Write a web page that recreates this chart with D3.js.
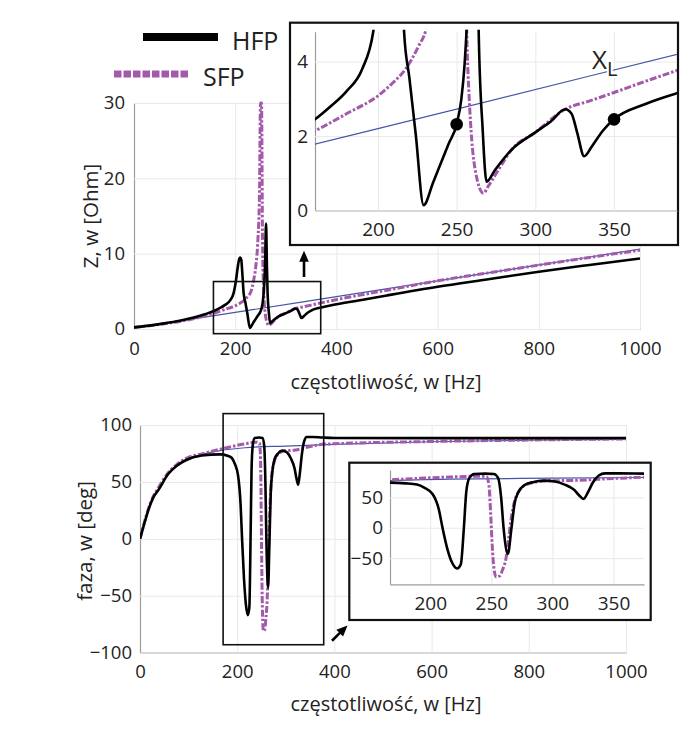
<!DOCTYPE html>
<html>
<head>
<meta charset="utf-8">
<script src="https://cdnjs.cloudflare.com/ajax/libs/d3/7.8.5/d3.min.js"></script>
<style>
  body { margin: 0; background: #fff; }
  svg { display: block; font-family: "Open Sans", sans-serif; }
</style>
</head>
<body>
<div id="chart"></div>
<script>
// ---- data: impedance |Z| [Ohm] ----
var fZHfp = [0, 30, 60, 90, 120, 140, 160, 170, 180, 190, 197, 201, 205, 208, 210, 212, 214, 216.6, 220, 224, 229,
             235, 240, 245, 250, 253, 255, 257, 259, 261, 262.5, 264, 266.5, 269, 274.5, 285, 300, 310, 319, 323,
             326.6, 331, 336, 343, 350, 370, 390, 450, 500, 600, 700, 800, 900, 1000];
var zHfp  = [0.22, 0.45, 0.75, 1.1, 1.55, 1.95, 2.45, 2.8, 3.2, 3.8, 4.8, 6.2, 8.2, 9.3, 9.5, 9.2, 7.5, 4.8, 3.55, 2.05, 0.15,
             0.75, 1.28, 1.8, 2.32, 3.0, 3.9, 5.5, 8.5, 14, 9, 4.8, 2.2, 0.78, 1.1, 1.64, 2.1, 2.4, 2.72, 2.6,
             2.09, 1.46, 1.73, 2.15, 2.45, 2.86, 3.15, 3.85, 4.45, 5.6, 6.6, 7.6, 8.5, 9.36];

var fZSfp = [0, 30, 60, 90, 120, 140, 160, 180, 200, 210, 217.6, 226, 230.4, 236, 241, 245, 248, 250, 252, 254, 256.4,
             258, 259.6, 262.2, 267, 270, 276.6, 285, 300, 319, 335, 350, 370, 390, 400, 500, 600, 700, 800, 900, 1000];
var zSfp  = [0.22, 0.42, 0.7, 1.0, 1.4, 1.75, 2.14, 2.6, 3.08, 3.45, 3.8, 4.43, 4.84, 6.3, 8.5, 12, 18, 30, 30, 12, 4.8,
             3.0, 1.9, 1.0, 0.47, 0.65, 1.1, 1.64, 2.1, 2.72, 2.95, 3.17, 3.47, 3.76, 3.9, 5.15, 6.4, 7.45, 8.48, 9.5, 10.46];

var fZXl = [0, 200, 400, 600, 800, 1000];
var zXl  = [0.12, 2.2, 4.3, 6.4, 8.5, 10.6];

// ---- data: phase [deg] ----
var fPHfp = [0, 8, 17, 27, 38, 58, 75, 93, 127, 165, 180, 189, 195, 202, 207, 210, 214, 218, 222, 225, 227.5, 229.5,
             232, 236, 245, 252, 255.5, 258, 260, 263.5, 266.5, 269, 272, 277, 284, 293, 302, 310, 318, 322, 325.5,
             329, 333, 338, 343, 355, 375, 400, 600, 800, 1000];
var pHfp  = [0, 12, 25, 36, 43, 57, 64, 68.8, 73.2, 74.2, 73, 71, 66, 55, 30, 0, -35, -58, -67, -60, 0, 60,
             82, 88.5, 89, 88.5, 82, 50, 0, -43, 0, 40, 58, 70, 75, 77.5, 76, 71, 62, 53, 47.5,
             58, 74, 86, 89.5, 89.5, 89, 88.6, 88.5, 88.5, 88.6];

var fPSfp = [0, 8, 17, 27, 38, 58, 75, 93, 127, 168, 216, 240, 246, 248, 249.5, 251, 252.5, 254, 257, 259, 262, 264,
             266, 268, 271, 275, 280, 294, 320, 350, 375, 400, 600, 800, 1000];
var pSfp  = [0, 13, 26, 37, 45, 58, 65, 70.3, 74.6, 79, 83.4, 84.9, 84, 70, 20, -40, -72, -81, -79, -70, -50, -20,
             12, 35, 55, 66, 72, 77, 78, 81, 83, 83.5, 85.5, 86.8, 87.8];

var fPXl = [0, 8, 17, 27, 38, 58, 93, 127, 165, 216, 300, 400, 600, 800, 1000];
var pXl  = [0, 13, 25, 36, 43, 57, 68.5, 74, 77.5, 80, 81.5, 83, 85.3, 86.6, 87.5];

// ---- ticks ----
var xTicks = [0, 200, 400, 600, 800, 1000];
var zTicks = [0, 10, 20, 30];
var zInXTicks = [200, 250, 300, 350];
var zInYTicks = [0, 2, 4];
var pTicks = [-100, -50, 0, 50, 100];
var pInXTicks = [200, 250, 300, 350];
var pInYTicks = [-50, 0, 50];

// marker points on the Z inset
var dotF = [250, 350];
var dotZ = [2.32, 2.45];

var purple = "#a35aab", blue = "#4656a6";

function zip(xs, ys) { return xs.map(function(x, i) { return [x, ys[i]]; }); }

var svg = d3.select("#chart").append("svg")
    .attr("width", 689)
    .attr("height", 744);

var defs = svg.append("defs");

function minus(d) { return d < 0 ? "\u2212" + Math.abs(d) : String(d); }

/* draws grid + axes + three curves for one panel */
function panel(g, x, y, xt, yt, id, opts) {
    var x0 = x.range()[0], x1 = x.range()[1];
    var y0 = y.range()[0], y1 = y.range()[1];

    defs.append("clipPath").attr("id", id)
        .append("rect")
        .attr("x", x0).attr("y", y1 - 2)
        .attr("width", x1 - x0).attr("height", y0 - y1 + 2);

    var xa = g.append("g")
        .attr("transform", "translate(0," + y0 + ")")
        .call(d3.axisBottom(x).tickValues(xt).tickSizeInner(-(y0 - y1)).tickSizeOuter(0)
              .tickPadding(opts.xPad).tickFormat(minus));
    var ya = g.append("g")
        .attr("transform", "translate(" + x0 + ",0)")
        .call(d3.axisLeft(y).tickValues(yt).tickSizeInner(-(x1 - x0)).tickSizeOuter(0)
              .tickPadding(opts.yPad).tickFormat(minus));

    [xa, ya].forEach(function(a) {
        a.selectAll(".tick line").style("stroke", "#e9e9e9").style("stroke-width", 1);
        a.select(".domain").style("stroke", "#9c9c9c").style("stroke-width", 1.2);
        a.selectAll("text").style("font-size", opts.font + "px").style("fill", "#222")
            .style("font-family", '"Open Sans", sans-serif');
    });
    ya.raise();

    var line = d3.line()
        .x(function(d) { return x(d[0]); })
        .y(function(d) { return y(d[1]); })
        .curve(d3.curveMonotoneX);

    var c = g.append("g").attr("clip-path", "url(#" + id + ")");
    c.append("path").datum(opts.xl)
        .attr("d", line).attr("fill", "none")
        .attr("stroke", blue).attr("stroke-width", 1.2);
    c.append("path").datum(opts.sfp)
        .attr("d", line).attr("fill", "none")
        .attr("stroke", purple).attr("stroke-width", 3)
        .attr("stroke-dasharray", "7,2,2.5,2");
    c.append("path").datum(opts.hfp)
        .attr("d", line).attr("fill", "none")
        .attr("stroke", "#000").attr("stroke-width", 2.6)
        .attr("stroke-linejoin", "round");
    return c;
}

function zoomBox(g, x, y, fx, vy) {
    g.append("rect")
        .attr("x", x(fx[0])).attr("y", y(vy[1]))
        .attr("width", x(fx[1]) - x(fx[0])).attr("height", y(vy[0]) - y(vy[1]))
        .attr("fill", "none").attr("stroke", "#111").attr("stroke-width", 1.6);
}

function arrow(g, x1, y1, x2, y2) {
    var dx = x2 - x1, dy = y2 - y1, L = Math.sqrt(dx * dx + dy * dy);
    var ux = dx / L, uy = dy / L, hl = 11, hw = 4.8;
    var bx = x2 - ux * hl, by = y2 - uy * hl;
    g.append("line")
        .attr("x1", x1).attr("y1", y1).attr("x2", bx + ux).attr("y2", by + uy)
        .attr("stroke", "#000").attr("stroke-width", 2.6);
    g.append("polygon")
        .attr("points", [[x2, y2], [bx - uy * hw, by + ux * hw], [bx + uy * hw, by - ux * hw]].join(" "))
        .attr("fill", "#000");
}

// ================= TOP: impedance =================
var xTop = d3.scaleLinear().domain([0, 1000]).range([134, 640]);
var yTop = d3.scaleLinear().domain([0, 30]).range([329, 103]);
var gTop = svg.append("g");
panel(gTop, xTop, yTop, xTicks, zTicks, "clipTop",
      {xPad: 13, yPad: 9, font: 18.5, hfp: zip(fZHfp, zHfp), sfp: zip(fZSfp, zSfp), xl: zip(fZXl, zXl)});
zoomBox(gTop, xTop, yTop, [157, 369], [-0.62, 6.3]);
arrow(gTop, xTop(336), yTop(6.9), xTop(336), yTop(10.4));

gTop.append("text")
    .attr("transform", "translate(98,216) rotate(-90)")
    .attr("text-anchor", "middle").style("font-size", "20.5px").style("fill", "#222")
    .text("Z, w [Ohm]");
gTop.append("text")
    .attr("x", 386).attr("y", 389)
    .attr("text-anchor", "middle").style("font-size", "20px").style("fill", "#222")
    .text("częstotliwość, w [Hz]");

// inset of impedance
var gTopIn = svg.append("g");
gTopIn.append("rect")
    .attr("x", 290).attr("y", 22.7).attr("width", 388).attr("height", 222.3)
    .attr("fill", "#fff").attr("stroke", "#111").attr("stroke-width", 2.2);
var xTopIn = d3.scaleLinear().domain([160, 390]).range([315, 677]);
var yTopIn = d3.scaleLinear().domain([0, 4.8]).range([210.7, 31.7]);
panel(gTopIn, xTopIn, yTopIn, zInXTicks, zInYTicks, "clipTopIn",
      {xPad: 12, yPad: 7, font: 19, hfp: zip(fZHfp, zHfp), sfp: zip(fZSfp, zSfp), xl: zip(fZXl, zXl)});
gTopIn.selectAll(".dot")
    .data(zip(dotF, dotZ))
    .enter().append("circle")
    .attr("cx", function(d) { return xTopIn(d[0]); })
    .attr("cy", function(d) { return yTopIn(d[1]); })
    .attr("r", 6.3).attr("fill", "#000");
var xl = gTopIn.append("text")
    .attr("x", xTopIn(336)).attr("y", yTopIn(3.8))
    .style("font-size", "26px").style("fill", "#222")
    .attr("stroke", "#fff").attr("stroke-width", 4).attr("paint-order", "stroke");
xl.append("tspan").text("X");
xl.append("tspan").attr("dy", 7).style("font-size", "20px").text("L");

// legend
var leg = svg.append("g");
leg.append("line").attr("x1", 143).attr("x2", 218).attr("y1", 37).attr("y2", 37)
    .attr("stroke", "#000").attr("stroke-width", 8);
leg.append("text").attr("x", 232).attr("y", 50).style("font-size", "25px").style("fill", "#222").text("HFP");
leg.append("line").attr("x1", 114).attr("x2", 190).attr("y1", 74).attr("y2", 74)
    .attr("stroke", purple).attr("stroke-width", 7).attr("stroke-dasharray", "7.5,2");
leg.append("text").attr("x", 203).attr("y", 86).style("font-size", "25px").style("fill", "#222").text("SFP");

// ================= BOTTOM: phase =================
var xBot = d3.scaleLinear().domain([0, 1000]).range([140, 626]);
var yBot = d3.scaleLinear().domain([-100, 100]).range([652.7, 425]);
var gBot = svg.append("g");
panel(gBot, xBot, yBot, xTicks, pTicks, "clipBot",
      {xPad: 12, yPad: 8, font: 18.5, hfp: zip(fPHfp, pHfp), sfp: zip(fPSfp, pSfp), xl: zip(fPXl, pXl)});
zoomBox(gBot, xBot, yBot, [171, 378], [-93, 110]);
arrow(gBot, xBot(395), yBot(-89.5), xBot(427), yBot(-76));

gBot.append("text")
    .attr("transform", "translate(92,541) rotate(-90)")
    .attr("text-anchor", "middle").style("font-size", "20.5px").style("fill", "#222")
    .text("faza, w [deg]");
gBot.append("text")
    .attr("x", 386).attr("y", 711)
    .attr("text-anchor", "middle").style("font-size", "20px").style("fill", "#222")
    .text("częstotliwość, w [Hz]");

// inset of phase
var gBotIn = svg.append("g");
gBotIn.append("rect")
    .attr("x", 349.3).attr("y", 462.7).attr("width", 301.4).attr("height", 157.3)
    .attr("fill", "#fff").attr("stroke", "#111").attr("stroke-width", 2.2);
var xBotIn = d3.scaleLinear().domain([167, 375]).range([390, 644]);
var yBotIn = d3.scaleLinear().domain([-93, 95]).range([584.3, 470]);
panel(gBotIn, xBotIn, yBotIn, pInXTicks, pInYTicks, "clipBotIn",
      {xPad: 12, yPad: 7, font: 19, hfp: zip(fPHfp, pHfp), sfp: zip(fPSfp, pSfp), xl: zip(fPXl, pXl)});
</script>
</body>
</html>
